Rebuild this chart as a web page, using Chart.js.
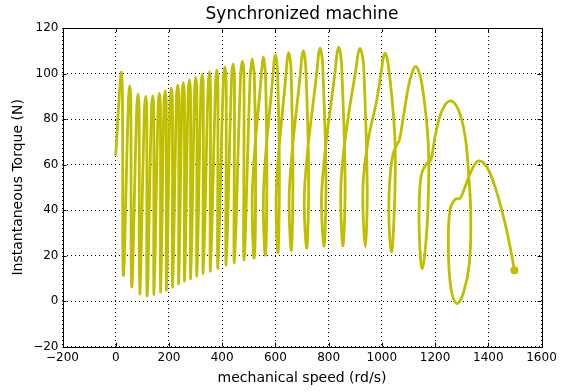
<!DOCTYPE html>
<html>
<head>
<meta charset="utf-8">
<script src="https://cdn.jsdelivr.net/npm/chart.js@4"></script>
<style>
  html, body { margin: 0; padding: 0; background: #fff; }
  #wrap { width: 561px; height: 392px; }
</style>
</head>
<body>
<div id="wrap"><canvas id="torque_speed"></canvas></div>
<script>
// speed (rd/s) and torque (N), in drawing order
const speed = [
  0, 20, 25, 28.6,
  47.6, 52.6, 56.6, 60,
  78.8, 83.8, 87.8, 90,
  107.7, 112.7, 116.7, 118,
  134, 139, 143, 144,
  159, 164, 168, 169,
  181, 186, 190, 191,
  204, 209, 213, 214,
  228, 233, 237, 237,
  249, 254, 258, 259,
  272, 277, 281, 282,
  296, 301, 305, 305,
  320, 325, 329, 329,
  347, 352, 356, 356,
  375, 380, 384, 384,
  404, 410, 415, 415,
  435, 441, 446, 446,
  469, 476, 482, 482,
  505, 509.5, 513, 516.5, 521, 526, 520, 514,
  547, 551.5, 555, 558.5, 563, 568, 562, 556,
  591.5, 595.3, 600, 604.7, 608.5, 615, 610, 604,
  641, 645, 650, 655, 659, 666, 660, 653,
  695.5, 700, 705, 710, 714.5, 725, 718, 710,
  758, 762.5, 768, 773.5, 778, 790, 783, 775,
  827, 832, 838, 844, 849, 862, 854, 846, 866,
  904, 910.5, 918, 925.5, 932, 945, 938, 929, 949, 981,
  998, 1005, 1012, 1020, 1031, 1043, 1050, 1050, 1046, 1037, 1028, 1027, 1033, 1043, 1056, 1066,
  1081, 1100, 1114, 1127, 1140, 1150, 1165, 1175, 1176, 1169, 1152, 1141, 1141, 1150, 1169,
  1184, 1200, 1225, 1256, 1288, 1313, 1325, 1334, 1329, 1306, 1281, 1259, 1250,
  1256, 1275, 1294, 1313, 1338, 1363, 1394, 1425, 1457, 1482, 1498
];
const torque = [
  64, 100.2, 93, 11.4,
  87.6, 94.6, 87.6, 6.3,
  83.9, 90.9, 83.9, 3.1,
  82.9, 89.9, 82.9, 2.3,
  83.2, 90.2, 83.2, 2.9,
  84.4, 91.4, 84.4, 4.0,
  85.4, 92.4, 85.4, 4.8,
  86.6, 93.6, 86.6, 6.2,
  87.9, 94.9, 87.9, 7.6,
  89, 96, 89, 8.8,
  90.2, 97.2, 90.2, 9.8,
  91.2, 98.2, 91.2, 11,
  92.6, 99.6, 92.6, 12.2,
  93.6, 100.6, 93.6, 13.2,
  94.6, 101.6, 94.6, 14.5,
  95.8, 102.8, 95.8, 15.8,
  97.1, 104.1, 97.1, 16.8,
  98.3, 105.3, 98.3, 18,
  98.3, 103.8, 106.3, 103.8, 98.3, 55, 18.9, 50,
  99.2, 104.7, 107.2, 104.7, 99.2, 55, 20.2, 50,
  100.2, 105.7, 108.2, 105.7, 100.2, 55, 21.3, 50,
  101.2, 106.7, 109.2, 106.7, 101.2, 55, 22.4, 50,
  102.1, 107.6, 110.1, 107.6, 102.1, 55, 23.3, 50,
  103.2, 108.7, 111.2, 108.7, 103.2, 55, 24.2, 50,
  103.6, 109.1, 111.6, 109.1, 103.6, 52, 24.3, 50, 74.5,
  103, 108.5, 111, 108.5, 103, 50, 23.9, 50, 70.8, 88.4,
  101, 106.5, 109, 106.5, 97.2, 82.6, 68.6, 53.2, 37.1, 21.7, 31.2, 45.9, 57.6, 65, 68.6, 70.8,
  81.1, 94.3, 100.5, 103.1, 100.5, 95.8, 82.6, 67.9, 53.2, 31.2, 14.4, 28.3, 45.9, 56.2, 60.6,
  62, 72.3, 83.3, 88, 84, 72.3, 57.6, 38.6, 16.6, 3.4, -1, 6.3, 23.9,
  40, 44.7, 45.2, 50.3, 57.6, 61.6, 59.1, 50.3, 37.1, 23.9, 13.6
];
const xTicks = [-200, 0, 200, 400, 600, 800, 1000, 1200, 1400, 1600];
const yTicks = [-20, 0, 20, 40, 60, 80, 100, 120];

const titleText = "Synchronized machine";
const xLabel = "mechanical speed (rd/s)";
const yLabel = "Instantaneous Torque (N)";

const lineColor = "#bfbf00";
const fontFamily = "'DejaVu Sans', sans-serif";

function fmt(v) {
  return v < 0 ? "\u2212" + Math.abs(v) : String(v);
}

const points = speed.map((s, i) => ({ x: s, y: torque[i] }));

// frame, inward ticks and text labels, drawn the way matplotlib does it
const framePlugin = {
  id: "frame",
  afterDraw(chart) {
    const { ctx, chartArea: a, scales } = chart;
    ctx.save();
    ctx.strokeStyle = "#000";
    ctx.lineWidth = 1;
    ctx.strokeRect(Math.round(a.left) + 0.5, Math.round(a.top) + 0.5,
      Math.round(a.right - a.left), Math.round(a.bottom - a.top));
    ctx.beginPath();
    xTicks.forEach(v => {
      const px = Math.round(scales.x.getPixelForValue(v)) + 0.5;
      ctx.moveTo(px, a.bottom); ctx.lineTo(px, a.bottom - 4);
      ctx.moveTo(px, a.top); ctx.lineTo(px, a.top + 4);
    });
    yTicks.forEach(v => {
      const py = Math.round(scales.y.getPixelForValue(v)) + 0.5;
      ctx.moveTo(a.left, py); ctx.lineTo(a.left + 4, py);
      ctx.moveTo(a.right, py); ctx.lineTo(a.right - 4, py);
    });
    ctx.stroke();

    ctx.fillStyle = "#000";
    ctx.textAlign = "center";
    ctx.textBaseline = "middle";
    ctx.font = "17px " + fontFamily;
    ctx.fillText(titleText, (a.left + a.right) / 2, 15);
    ctx.font = "14px " + fontFamily;
    ctx.fillText(xLabel, (a.left + a.right) / 2, 378);
    ctx.translate(18, (a.top + a.bottom) / 2);
    ctx.rotate(-Math.PI / 2);
    ctx.fillText(yLabel, 0, 0);
    ctx.restore();
  }
};

new Chart(document.getElementById("torque_speed"), {
  type: "scatter",
  data: {
    datasets: [{
      label: "torque",
      data: points,
      showLine: true,
      borderColor: lineColor,
      backgroundColor: lineColor,
      borderWidth: 2.8,
      tension: 0.4,
      pointRadius: ctx => ctx.dataIndex === points.length - 1 ? 4 : 0,
      pointHoverRadius: 0,
      pointBorderWidth: 0,
      pointBackgroundColor: lineColor
    }]
  },
  options: {
    responsive: true,
    maintainAspectRatio: false,
    animation: false,
    events: [],
    layout: { padding: { top: 28, right: 19.5, bottom: 0, left: 0 } },
    plugins: { legend: { display: false }, title: { display: false }, tooltip: { enabled: false } },
    scales: {
      x: {
        type: "linear",
        min: -200, max: 1600,
        afterBuildTicks: s => { s.ticks = xTicks.map(v => ({ value: v })); },
        afterFit: s => { s.height = 45.3; },
        grid: { color: "#000", lineWidth: 1, drawTicks: false },
        border: { display: false, dash: [1, 3] },
        ticks: { color: "#000", padding: 4, maxRotation: 0, font: { family: fontFamily, size: 12 }, callback: v => fmt(v) }
      },
      y: {
        type: "linear",
        min: -20, max: 120,
        afterBuildTicks: s => { s.ticks = yTicks.map(v => ({ value: v })); },
        afterFit: s => { s.width = 62.5; },
        grid: { color: "#000", lineWidth: 1, drawTicks: false },
        border: { display: false, dash: [1, 3] },
        ticks: { color: "#000", padding: 4, font: { family: fontFamily, size: 12 }, callback: v => fmt(v) }
      }
    }
  },
  plugins: [framePlugin]
});
</script>
</body>
</html>
